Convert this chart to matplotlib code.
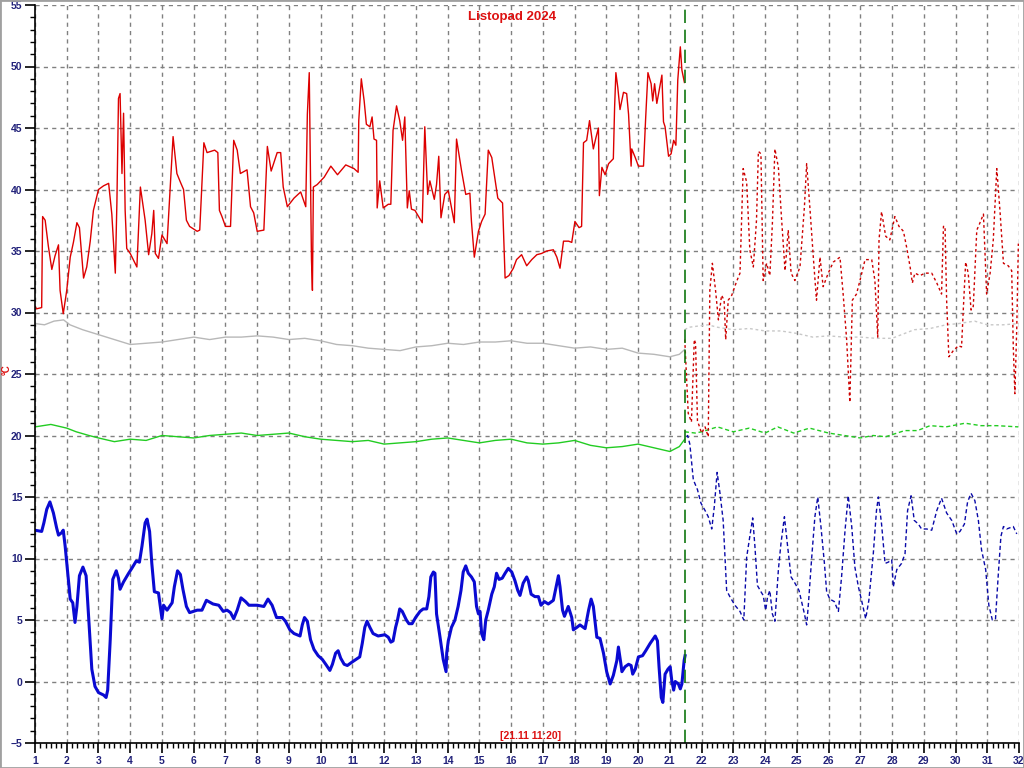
import matplotlib
matplotlib.use("Agg")
import matplotlib.pyplot as plt
from matplotlib.patches import Rectangle
from matplotlib.ticker import MultipleLocator

# measured series (day of month, deg C)
red_days = [1.0, 1.05, 1.21, 1.24, 1.32, 1.42, 1.53, 1.63, 1.74, 1.79, 1.89, 2.0, 2.11, 2.21, 2.32, 2.4,
            2.53, 2.63, 2.74, 2.84, 3.0, 3.16, 3.32, 3.42, 3.53, 3.58, 3.63, 3.68, 3.74, 3.79, 3.84, 3.89,
            4.0, 4.21, 4.32, 4.47, 4.58, 4.68, 4.74, 4.79, 4.89, 5.0, 5.16, 5.24, 5.35, 5.47, 5.58, 5.68,
            5.77, 5.87, 6.11, 6.19, 6.32, 6.42, 6.66, 6.76, 6.81, 6.89, 7.0, 7.16, 7.26, 7.37, 7.47, 7.68,
            7.79, 7.89, 8.0, 8.21, 8.32, 8.44, 8.63, 8.74, 8.82, 8.95, 9.16, 9.37, 9.53, 9.58, 9.64, 9.71,
            9.74, 9.77, 9.89, 10.11, 10.32, 10.53, 10.79, 11.05, 11.18, 11.2, 11.28, 11.37, 11.44, 11.55,
            11.62, 11.68, 11.76, 11.78, 11.86, 11.97, 12.13, 12.21, 12.28, 12.39, 12.49, 12.58, 12.65,
            12.73, 12.79, 12.86, 12.97, 13.2, 13.28, 13.37, 13.44, 13.58, 13.65, 13.72, 13.79, 13.91,
            14.02, 14.21, 14.28, 14.44, 14.57, 14.7, 14.75, 14.84, 14.97, 15.07, 15.18, 15.28, 15.39,
            15.58, 15.73, 15.81, 15.93, 16.07, 16.17, 16.33, 16.49, 16.65, 16.81, 16.96, 17.12, 17.33,
            17.44, 17.54, 17.65, 17.81, 17.91, 18.01, 18.14, 18.22, 18.28, 18.38, 18.47, 18.59, 18.67,
            18.75, 18.78, 18.86, 18.96, 19.07, 19.22, 19.26, 19.3, 19.36, 19.43, 19.54, 19.64, 19.7,
            19.78, 19.8, 19.91, 20.01, 20.17, 20.24, 20.31, 20.41, 20.46, 20.52, 20.59, 20.66, 20.75,
            20.8, 20.85, 20.96, 21.04, 21.12, 21.19, 21.25, 21.33, 21.38, 21.46]
red_vals = [30.5, 30.3, 30.4, 37.8, 37.5, 35.4, 33.5, 34.6, 35.5, 31.8, 29.9, 31.8, 34.5, 35.7, 37.3, 36.9,
            32.8, 33.7, 35.8, 38.3, 40.0, 40.3, 40.5, 38.0, 33.2, 38.9, 47.4, 47.8, 41.3, 46.2, 38.3, 35.2,
            34.8, 33.7, 40.2, 37.5, 34.7, 36.4, 38.3, 34.8, 34.4, 36.3, 35.6, 39.2, 44.3, 41.3, 40.6, 40.0,
            37.5, 37.0, 36.6, 36.7, 43.8, 43.0, 43.2, 43.0, 38.3, 37.8, 37.0, 37.0, 44.0, 43.2, 41.3, 41.6,
            38.6, 38.1, 36.6, 36.7, 43.5, 41.5, 43.0, 43.0, 40.2, 38.6, 39.3, 39.8, 38.6, 46.1, 49.5, 34.3,
            31.8, 40.2, 40.4, 41.0, 41.9, 41.2, 42.0, 41.7, 41.4, 45.6, 49.0, 47.2, 45.3, 45.1,
            45.9, 44.1, 44.0, 38.5, 40.7, 38.5, 38.8, 38.8, 44.8, 46.8, 45.6, 44.0, 45.9,
            38.5, 39.9, 38.4, 38.3, 37.3, 45.1, 39.6, 40.7, 39.2, 40.4, 42.7, 37.7, 39.6,
            39.9, 37.3, 44.1, 41.5, 39.6, 39.7, 37.4, 34.5, 36.6, 37.4, 38.0, 43.2, 42.6,
            39.3, 38.9, 32.8, 33.0, 33.6, 34.3, 34.7, 33.8, 34.3, 34.7, 34.8, 35.0, 35.1,
            34.5, 33.6, 35.8, 35.8, 35.7, 37.4, 36.9, 37.0, 43.8, 44.0, 45.6, 43.3, 44.2,
            45.0, 39.5, 41.8, 41.2, 42.1, 42.5, 46.7, 49.5, 48.3, 46.5, 47.9, 47.8, 46.1,
            41.9, 43.3, 42.6, 41.9, 41.9, 45.9, 49.5, 48.6, 47.2, 48.6, 47.0, 48.0, 49.3,
            45.5, 45.1, 42.7, 42.9, 44.0, 43.6, 48.9, 51.6, 49.7, 48.7]

blue_days = [1.0, 1.21, 1.28, 1.37, 1.47, 1.58, 1.68, 1.74, 1.84, 1.89, 1.95, 2.02, 2.11, 2.19, 2.26, 2.32,
             2.4, 2.51, 2.61, 2.68, 2.79, 2.89, 3.0, 3.16, 3.24, 3.29, 3.37, 3.45, 3.56, 3.63, 3.68, 3.79,
             3.95, 4.05, 4.19, 4.29, 4.37, 4.47, 4.53, 4.61, 4.68, 4.76, 4.89, 5.0, 5.05, 5.16, 5.32, 5.39,
             5.49, 5.58, 5.66, 5.77, 5.87, 6.11, 6.26, 6.4, 6.61, 6.79, 6.93, 7.05, 7.16, 7.26, 7.37, 7.49,
             7.63, 7.74, 8.0, 8.21, 8.34, 8.47, 8.61, 8.79, 8.89, 9.03, 9.16, 9.35, 9.42, 9.49, 9.58, 9.68,
             9.79, 9.92, 10.05, 10.16, 10.29, 10.37, 10.47, 10.55, 10.63, 10.74, 10.84, 11.0, 11.23, 11.31,
             11.39, 11.46, 11.55, 11.65, 11.81, 12.02, 12.13, 12.21, 12.28, 12.36, 12.42, 12.49, 12.57,
             12.7, 12.78, 12.88, 12.99, 13.13, 13.23, 13.34, 13.41, 13.47, 13.55, 13.6, 13.65, 13.76,
             13.86, 13.95, 13.97, 14.02, 14.12, 14.23, 14.33, 14.42, 14.49, 14.57, 14.65, 14.75, 14.84,
             14.91, 14.97, 15.02, 15.07, 15.14, 15.2, 15.28, 15.39, 15.47, 15.54, 15.62, 15.72, 15.81,
             15.91, 16.02, 16.12, 16.21, 16.28, 16.38, 16.49, 16.54, 16.63, 16.75, 16.86, 16.94, 17.05,
             17.17, 17.33, 17.44, 17.49, 17.54, 17.62, 17.68, 17.8, 17.91, 17.96, 18.07, 18.17, 18.33,
             18.44, 18.52, 18.59, 18.7, 18.8, 18.91, 19.01, 19.12, 19.22, 19.33, 19.38, 19.46, 19.49,
             19.59, 19.7, 19.78, 19.83, 19.91, 20.01, 20.14, 20.24, 20.38, 20.54, 20.61, 20.66, 20.73,
             20.78, 20.85, 20.94, 21.01, 21.06, 21.12, 21.17, 21.27, 21.33, 21.38, 21.45, 21.48]
blue_vals = [12.3, 12.2, 12.9, 14.0, 14.6, 13.7, 12.5, 11.9, 12.1, 12.3, 11.0, 9.1, 6.7, 6.4, 4.8, 6.1,
             8.6, 9.3, 8.6, 5.6, 1.0, -0.4, -0.9, -1.1, -1.3, -0.7, 3.4, 8.3, 9.0, 8.4, 7.5, 8.1,
             8.8, 9.2, 9.8, 9.7, 11.0, 12.9, 13.2, 12.2, 9.6, 7.3, 7.2, 5.1, 6.2, 5.8, 6.4, 7.7,
             9.0, 8.7, 7.5, 6.1, 5.6, 5.8, 5.8, 6.6, 6.3, 6.2, 5.7, 5.8, 5.6, 5.1, 5.8, 6.8,
             6.5, 6.2, 6.2, 6.1, 6.7, 6.2, 5.2, 5.2, 4.9, 4.2, 3.9, 3.7, 4.6, 5.2, 4.9, 3.4,
             2.6, 2.1, 1.8, 1.4, 0.9, 1.4, 2.3, 2.5, 1.9, 1.4, 1.3, 1.6, 2.0, 3.1,
             4.4, 4.9, 4.4, 3.9, 3.7, 3.8, 3.6, 3.2, 3.3, 4.4, 5.0, 5.9, 5.7,
             5.0, 4.7, 4.7, 5.2, 5.7, 5.9, 5.9, 6.9, 8.5, 8.9, 8.8, 5.5, 3.6,
             1.8, 0.8, 2.3, 3.3, 4.4, 5.0, 6.1, 7.4, 8.9, 9.4, 8.8, 8.5, 8.1,
             6.1, 5.5, 5.7, 3.9, 3.4, 5.0, 5.8, 7.1, 7.7, 8.8, 8.3, 8.4, 8.8,
             9.2, 8.9, 8.2, 7.4, 7.0, 8.0, 8.5, 8.2, 7.1, 6.9, 6.9, 6.2, 6.5,
             6.3, 6.6, 8.0, 8.6, 7.7, 5.8, 5.3, 6.1, 5.2, 4.2, 4.4, 4.6, 4.3,
             5.8, 6.7, 6.1, 3.6, 3.5, 2.3, 0.8, -0.2, 0.5, 1.7, 2.8, 1.4, 0.8,
             1.2, 1.4, 1.3, 0.6, 1.0, 2.0, 2.1, 2.5, 3.1, 3.7, 3.3, 1.2, -1.3,
             -1.7, 0.6, 1.0, 1.2, 0.1, -0.7, 0.0, -0.2, -0.6, -0.2, 1.7, 2.1]

gray_days = [1.0, 1.3, 1.6, 1.9, 2.1, 2.5, 3.0, 3.5, 4.0, 4.5, 5.0, 5.5, 6.0, 6.5, 7.0, 7.5, 8.0, 8.5,
             9.0, 9.5, 10.0, 10.5, 11.0, 11.5, 12.0, 12.5, 13.0, 13.5, 14.0, 14.5, 15.0, 15.5, 16.0,
             16.5, 17.0, 17.5, 18.0, 18.5, 19.0, 19.5, 20.0, 20.5, 21.0, 21.3, 21.47]
gray_vals = [29.1, 29.0, 29.3, 29.4, 29.0, 28.6, 28.2, 27.8, 27.4, 27.5, 27.6, 27.8, 28.0, 27.8, 28.0,
             28.0, 28.1, 28.0, 27.8, 27.9, 27.7, 27.4, 27.3, 27.1, 27.0, 26.9, 27.2, 27.3, 27.5, 27.4,
             27.6, 27.6, 27.7, 27.5, 27.5, 27.3, 27.1, 27.2, 27.0, 27.1, 26.7, 26.6, 26.4, 26.6, 27.0]

green_days = [1.0, 1.5, 2.0, 2.3, 2.7, 3.0, 3.5, 4.0, 4.5, 5.0, 5.5, 6.0, 6.5, 7.0, 7.5, 8.0, 8.5, 9.0,
              9.5, 10.0, 10.5, 11.0, 11.5, 12.0, 12.5, 13.0, 13.5, 14.0, 14.5, 15.0, 15.5, 16.0, 16.5,
              17.0, 17.5, 18.0, 18.5, 19.0, 19.5, 20.0, 20.5, 21.0, 21.3, 21.47]
green_vals = [20.7, 20.9, 20.6, 20.3, 20.0, 19.8, 19.5, 19.7, 19.6, 20.0, 19.9, 19.8, 20.0, 20.1, 20.2,
              20.0, 20.1, 20.2, 19.9, 19.7, 19.6, 19.5, 19.6, 19.3, 19.4, 19.5, 19.7, 19.8, 19.6, 19.4,
              19.6, 19.7, 19.4, 19.3, 19.4, 19.6, 19.2, 19.0, 19.1, 19.3, 19.0, 18.7, 19.1, 19.7]

# forecast series
red_fc_days = [21.47, 21.58, 21.68, 21.77, 21.81, 21.87, 22.0, 22.11, 22.21, 22.26, 22.34, 22.44, 22.53,
               22.63, 22.71, 22.76, 22.84, 22.95, 23.1, 23.21, 23.31, 23.42, 23.52, 23.63, 23.73, 23.79,
               23.87, 23.94, 24.05, 24.15, 24.23, 24.31, 24.42, 24.52, 24.63, 24.73, 24.82, 24.94, 25.1,
               25.24, 25.31, 25.41, 25.52, 25.62, 25.73, 25.83, 25.99, 26.15, 26.36, 26.46, 26.57, 26.67,
               26.75, 26.88, 26.99, 27.15, 27.36, 27.46, 27.55, 27.59, 27.67, 27.8, 27.93, 28.09, 28.22,
               28.36, 28.46, 28.57, 28.64, 28.72, 28.88, 29.04, 29.25, 29.41, 29.56, 29.62, 29.67, 29.72,
               29.79, 29.93, 30.09, 30.19, 30.25, 30.32, 30.4, 30.49, 30.56, 30.67, 30.74, 30.88, 30.98,
               31.09, 31.19, 31.3, 31.4, 31.51, 31.66, 31.77, 31.82, 31.87, 31.93, 31.98]
red_fc_vals = [27.8, 21.8, 21.1, 27.8, 27.5, 21.2, 20.2, 20.7, 19.9, 31.8, 34.0, 31.8, 29.4,
               31.4, 31.0, 27.8, 31.0, 31.4, 32.5, 33.2, 41.7, 40.6, 35.1, 33.7, 37.5, 43.1,
               42.9, 32.6, 34.0, 33.0, 37.2, 43.3, 41.8, 37.6, 33.4, 36.7, 33.2, 32.6, 33.7,
               38.6, 42.1, 38.6, 34.5, 31.0, 34.5, 32.1, 33.2, 34.1, 34.5, 31.5, 27.8, 22.7,
               31.0, 31.5, 32.6, 34.3, 34.3, 32.6, 28.0, 35.9, 38.2, 36.2, 35.9, 37.8, 37.0,
               36.6, 35.3, 33.7, 32.4, 33.2, 33.0, 33.2, 33.2, 32.4, 31.5, 37.0, 37.0, 31.0,
               26.4, 26.9, 27.3, 27.2, 30.5, 34.1, 33.2, 30.2, 30.5, 36.7, 37.1, 38.0, 31.5,
               33.2, 35.9, 41.7, 38.3, 34.0, 33.8, 33.4, 27.2, 23.4, 28.8, 35.6]

blue_fc_days = [21.53, 21.56, 21.63, 21.74, 21.87, 21.98, 22.11, 22.21, 22.32, 22.4, 22.49, 22.58, 22.68,
                22.79, 22.89, 23.05, 23.21, 23.33, 23.42, 23.52, 23.61, 23.68, 23.76, 23.87, 23.94, 24.02,
                24.08, 24.15, 24.23, 24.31, 24.42, 24.5, 24.61, 24.71, 24.82, 24.94, 25.07, 25.15, 25.24,
                25.31, 25.36, 25.47, 25.57, 25.66, 25.76, 25.87, 25.94, 26.04, 26.18, 26.31, 26.41, 26.52,
                26.62, 26.73, 26.83, 26.94, 27.04, 27.17, 27.27, 27.41, 27.51, 27.57, 27.67, 27.78, 27.88,
                27.99, 28.04, 28.15, 28.3, 28.41, 28.49, 28.6, 28.7, 28.83, 28.93, 29.09, 29.25, 29.41,
                29.56, 29.72, 29.88, 30.04, 30.14, 30.28, 30.38, 30.49, 30.61, 30.72, 30.82, 30.95, 31.05,
                31.16, 31.26, 31.35, 31.43, 31.51, 31.61, 31.82, 31.93]
blue_fc_vals = [19.9, 20.0, 19.3, 16.4, 15.6, 14.5, 13.9, 13.4, 12.4, 14.2, 17.0, 15.3, 13.1,
                7.4, 6.9, 6.2, 5.7, 5.0, 10.1, 11.8, 13.3, 11.0, 7.8, 7.3, 7.0, 5.8,
                6.9, 7.4, 5.5, 4.9, 9.1, 11.2, 13.4, 11.0, 8.5, 8.0, 7.4, 6.5, 5.5,
                4.6, 6.1, 10.1, 13.4, 15.0, 12.6, 9.6, 7.3, 6.7, 6.5, 5.7, 8.5, 12.3,
                15.1, 12.6, 9.3, 7.7, 6.6, 5.1, 6.6, 10.4, 13.9, 15.0, 12.8, 9.6, 9.7,
                9.9, 7.7, 9.1, 9.6, 10.4, 13.9, 15.1, 13.1, 12.8, 12.4, 12.4, 12.3, 13.9,
                14.9, 13.7, 13.1, 12.0, 12.2, 12.8, 14.6, 15.3, 14.7, 13.1, 10.7, 9.1, 6.2,
                5.0, 5.1, 8.8, 11.8, 12.6, 12.4, 12.6, 12.0]

gray_fc_days = [21.47, 21.6, 22.2, 22.5, 23.0, 23.5, 24.0, 24.5, 25.0, 25.5, 26.0, 26.5, 27.0, 27.5,
                28.0, 28.3, 28.7, 29.2, 29.7, 30.1, 30.6, 31.0, 31.5, 32.0]
gray_fc_vals = [28.6, 28.8, 29.0, 28.8, 28.6, 28.7, 28.5, 28.5, 28.3, 28.0, 28.1, 28.0, 28.0, 27.9,
                27.9, 28.2, 28.6, 28.7, 29.0, 29.1, 29.3, 29.0, 29.0, 29.1]

green_fc_days = [21.47, 21.8, 22.0, 22.5, 23.0, 23.5, 24.0, 24.4, 24.9, 25.4, 26.0, 26.5, 27.0, 27.4,
                 27.8, 28.4, 28.8, 29.2, 29.7, 30.3, 30.8, 31.3, 31.98]
green_fc_vals = [20.3, 20.2, 20.3, 20.7, 20.3, 20.6, 20.2, 20.7, 20.2, 20.6, 20.2, 20.0, 19.8, 20.0,
                 19.9, 20.4, 20.4, 20.8, 20.7, 21.0, 20.8, 20.8, 20.7]

now_day = 21.47
title = "Listopad 2024"
now_label = "[21.11 11:20]"

plt.rcParams['font.family'] = ['Liberation Sans', 'DejaVu Sans']
navy = '#22227a'

fig = plt.figure(figsize=(10.24, 7.68), dpi=100)
ax = fig.add_axes([35 / 1024, 1 - 743 / 768, 984 / 1024, 738 / 768])

ax.plot(gray_days, gray_vals, color='#b8b8b8', lw=1)
ax.plot(gray_fc_days, gray_fc_vals, color='#c8c8c8', lw=1, linestyle=(0, (2, 2)))
ax.plot(green_days, green_vals, color='#22cc22', lw=1)
ax.plot(green_fc_days, green_fc_vals, color='#22cc22', lw=1, linestyle=(0, (3, 2)))
ax.plot(red_days, red_vals, color='#dd0000', lw=1)
ax.plot(red_fc_days, red_fc_vals, color='#cc0000', lw=1, linestyle=(0, (2, 2)))
ax.plot(blue_days, blue_vals, color='#0a0ad2', lw=2.2)
ax.plot(blue_fc_days, blue_fc_vals, color='#0a0aa8', lw=1, linestyle=(0, (3, 2)))

ax.axvline(now_day, color='#117711', lw=1.2, linestyle=(0, (8, 4)))

ax.set_xlim(1, 32)
ax.set_ylim(-5, 55)
ax.xaxis.set_major_locator(MultipleLocator(1))
ax.xaxis.set_minor_locator(MultipleLocator(1 / 6))
ax.yaxis.set_major_locator(MultipleLocator(5))
ax.yaxis.set_minor_locator(MultipleLocator(1))
ax.grid(which='major', color='#808080', linestyle=(0, (3, 3)), lw=1)
ax.set_axisbelow(True)

ax.tick_params(axis='both', which='major', direction='out', length=7, width=1.2,
               labelsize=7.5, labelcolor=navy, pad=2)
ax.tick_params(axis='both', which='minor', direction='out', length=3.5, width=1)
for lbl in ax.get_xticklabels() + ax.get_yticklabels():
    lbl.set_fontweight('bold')

ax.spines['top'].set_visible(False)
ax.spines['right'].set_visible(False)
ax.spines['left'].set_linewidth(1.2)
ax.spines['bottom'].set_linewidth(1.2)

fig.text(512 / 1024, 1 - 17 / 768, title, color='#dd1111', fontsize=9.5, fontweight='bold',
         ha='center', va='center')
fig.text(7 / 1024, 1 - 370 / 768, '°C', color='#dd1111', fontsize=7, fontweight='bold',
         rotation=90, ha='center', va='center')
ax.text(0.504, 0.003, now_label, transform=ax.transAxes, color='#dd1111', fontsize=7.5,
        fontweight='bold', ha='center', va='bottom')

fig.patches.append(Rectangle((0, 0), 1, 1, transform=fig.transFigure, fill=False,
                             edgecolor='#a0a0a0', lw=2))

fig.savefig('out.png', dpi=100)
